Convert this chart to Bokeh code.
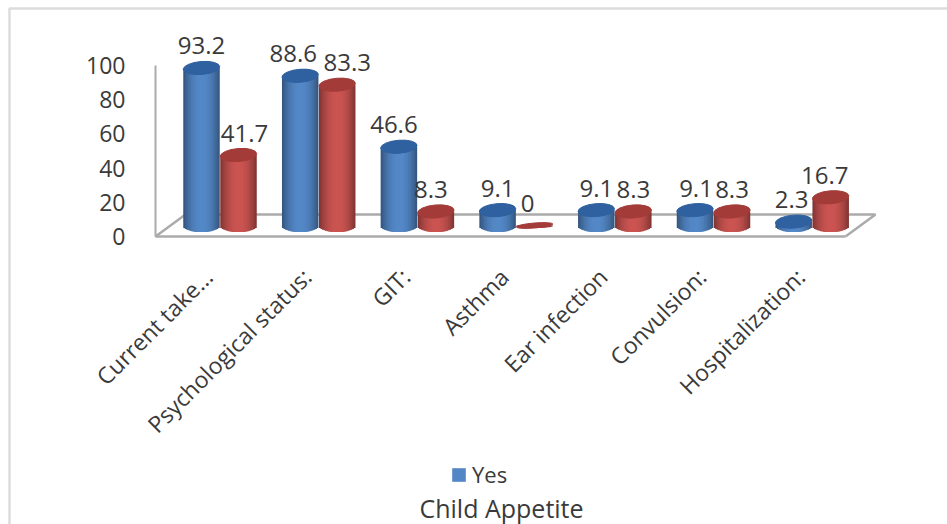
import math

from bokeh.core.properties import value
from bokeh.embed import file_html
from bokeh.models import (ColumnDataSource, FixedTicker, Label, Legend, LegendItem,
                          LinearAxis, PolyAnnotation, Range1d)
from bokeh.plotting import figure
from bokeh.resources import INLINE

# Survey values
categories = ["Current take...", "Psychological status:", "GIT:", "Asthma",
              "Ear infection", "Convulsion:", "Hospitalization:"]
yes_values = [93.2, 88.6, 46.6, 9.1, 9.1, 9.1, 2.3]
no_values = [41.7, 83.3, 8.3, 0, 8.3, 8.3, 16.7]
y_ticks = [0, 20, 40, 60, 80, 100]

# Sideways nudges (px) that keep neighbouring value labels apart
yes_nudge = [0, -7, -5, 0, 0, 1, -2]
no_nudge = [6, 10, -5, -7, 0, 0, -6]

FONT = "Open Sans"
TEXT = "#3a3a3a"
GRID = "#ababab"

# Page geometry in pixels
W, H = 947, 524
AXIS_X, AXIS_Y = 155, 236
UNIT_X = 98.7        # px per category
FIRST_X = 219.5      # px of the first category centre
UNIT_Y = 1.71        # px per value unit on the axis
BAR_BASE = 225       # px of the centre of a cylinder's foot
BAR_UNIT = 1.69      # px per value unit on the receding plane of the bars
BAR_W = 36.5         # px
DEPTH_X, DEPTH_Y = 30, 22
FLOOR_R = 845
LABEL_SHIFT = -0.12  # category labels end a little left of their group's centre


def px_x(px):
    return (px - FIRST_X) / UNIT_X


# The frame fills the page, so the axes sit at fixed locations inside it
p = figure(width=W, height=H, output_backend="svg", toolbar_location=None,
           x_range=Range1d(px_x(0), px_x(W)),
           y_range=Range1d(-(H - AXIS_Y) / UNIT_Y, AXIS_Y / UNIT_Y),
           x_axis_type=None, y_axis_type=None, min_border=0,
           outline_line_color=None, background_fill_color="white")
p.grid.visible = False
p.extra_y_ranges["bars"] = Range1d(-(H - BAR_BASE) / BAR_UNIT, BAR_BASE / BAR_UNIT)

x0 = px_x(AXIS_X)
floor_r = px_x(FLOOR_R)

yaxis = LinearAxis(ticker=FixedTicker(ticks=y_ticks), bounds=(0, 100), fixed_location=x0,
                   axis_line_color=GRID, axis_line_width=2,
                   major_tick_line_color=None, minor_tick_line_color=None,
                   major_label_text_font=FONT, major_label_text_font_size="23px",
                   major_label_text_color=TEXT, major_label_standoff=24)
p.add_layout(yaxis, "left")

label_ticks = [round(i + LABEL_SHIFT, 2) for i in range(len(categories))]
xaxis = LinearAxis(ticker=FixedTicker(ticks=label_ticks),
                   major_label_overrides=dict(zip(label_ticks, categories)),
                   bounds=(x0, floor_r), fixed_location=0,
                   axis_line_color=GRID, axis_line_width=2.5,
                   major_tick_line_color=None, minor_tick_line_color=None,
                   major_label_text_font=FONT, major_label_text_font_size="23px",
                   major_label_text_color=TEXT, major_label_orientation=math.pi / 4,
                   major_label_standoff=30)
p.add_layout(xaxis, "below")

# Floor of the 3D box
dx, dy = DEPTH_X / UNIT_X, DEPTH_Y / UNIT_Y
p.line([x0, x0 + dx, floor_r + dx, floor_r], [0, dy, dy, 0],
       line_color=GRID, line_width=2.5)


def shade(rgb, t):
    """Colour of a cylinder band t from the axis (0 centre, 1 edge)."""
    k = 0.68 + 0.38 * (1 - t ** 2.2)
    return "#%02x%02x%02x" % tuple(min(255, int(c * k)) for c in rgb)


def draw_cylinders(values, nudges, shift_px, base, cap, bands=12):
    half = BAR_W / 2
    rows = dict(left=[], right=[], bottom=[], top=[], color=[])
    xs = [i + shift_px / UNIT_X for i in range(len(values))]
    for cx, v in zip(xs, values):
        ry = 2.5 if v == 0 else 6.5
        # Nested rectangles, widest first, so that the shading shows no seams
        for b in range(bands, 0, -1):
            t = b / bands
            edge = (b - 1) / bands
            rows["left"].append(cx - t * half / UNIT_X)
            rows["right"].append(cx + t * half / UNIT_X)
            rows["bottom"].append(-ry * math.sqrt(1 - edge * edge) / BAR_UNIT)
            rows["top"].append(v)
            rows["color"].append(shade(base, t))
    body = p.quad(left="left", right="right", bottom="bottom", top="top",
                  fill_color="color", line_color=None,
                  source=ColumnDataSource(rows), y_range_name="bars")
    p.ellipse(x=xs, y=values, width=BAR_W / UNIT_X,
              height=[5 if v == 0 else 13 for v in values], height_units="screen",
              angle=0.08, fill_color=cap, line_color=cap, y_range_name="bars")
    p.text(x=xs, y=values, text=[f"{v:g}" for v in values], x_offset=nudges, y_offset=-22,
           text_font=value(FONT), text_font_size="24px", text_color=TEXT,
           text_align="center", text_baseline="middle", y_range_name="bars")
    return body


blue_body = draw_cylinders(yes_values, yes_nudge, -18.5, (79, 129, 189), "#2f609f")
red_body = draw_cylinders(no_values, no_nudge, 18.5, (192, 80, 77), "#a33b38")

legend = Legend(items=[LegendItem(label="Yes", renderers=[blue_body], index=9)],
                location=(450, H - 489), orientation="horizontal",
                background_fill_alpha=0, border_line_color=None,
                glyph_width=17, glyph_height=17, label_standoff=5,
                label_text_font=FONT, label_text_font_size="22px",
                label_text_color=TEXT, padding=4, margin=0)
p.add_layout(legend)

p.add_layout(Label(x=501, y=H - 507, x_units="screen", y_units="screen",
                   text="Child Appetite", text_font=FONT, text_font_size="25px",
                   text_color=TEXT, text_align="center", text_baseline="middle"))

# Chart border: only the left and top edges fall inside the page
p.add_layout(PolyAnnotation(xs=[9, 9, W + 20, W + 20], ys=[-20, H - 8, H - 8, -20],
                            xs_units="screen", ys_units="screen",
                            fill_alpha=0, line_color="#8c8c8c", line_width=2.5))

open("out.html", "w").write(file_html(p, INLINE))
